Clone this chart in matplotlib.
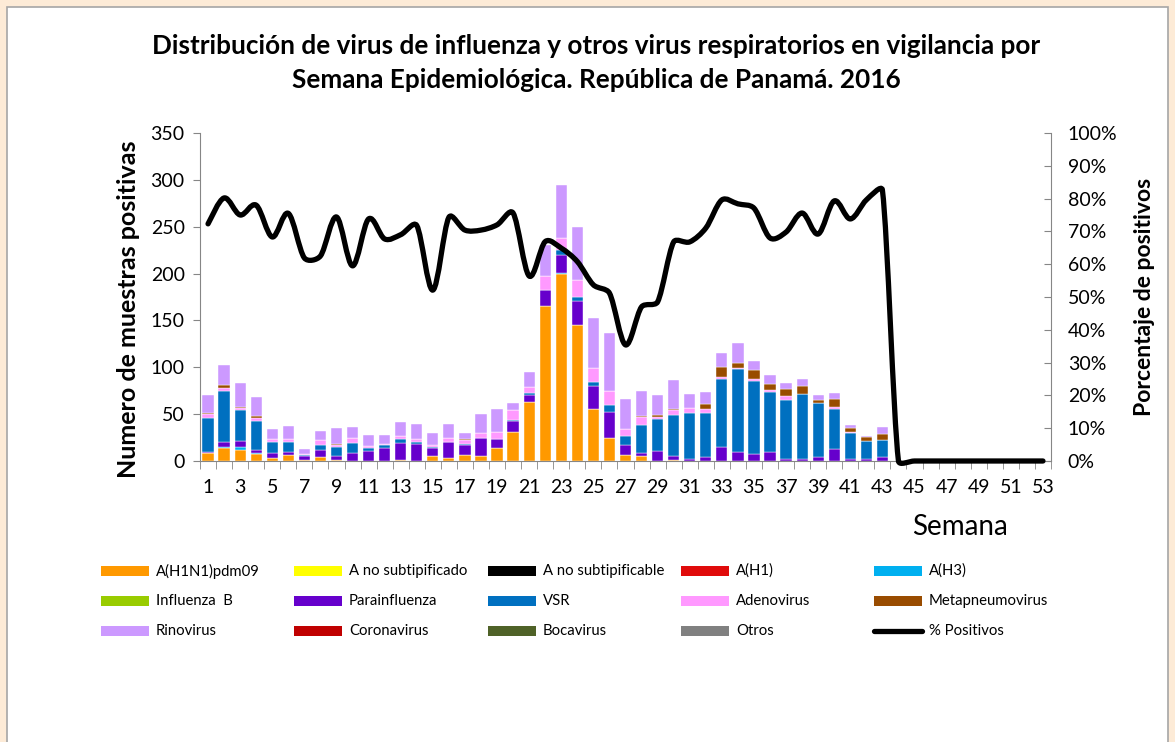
import numpy as np
import matplotlib.pyplot as plt
from matplotlib.patches import Rectangle, PathPatch
from matplotlib.lines import Line2D
from matplotlib.path import Path
from matplotlib.ticker import PercentFormatter, MultipleLocator

plt.rcParams["font.family"] = ["Lato", "DejaVu Sans"]

# semanas epidemiologicas 1..53
weeks = list(range(1, 54))

# muestras positivas por virus y semana
h1n1 = [9, 14, 12, 8, 3, 6, 1, 4, 1, 0, 0, 0, 1, 0, 5, 3, 6, 5, 14, 31, 63, 165, 200, 145, 55, 25, 6,
        5, 0, 1, 0, 0, 0, 0, 0, 0, 0, 0, 0, 0, 0, 0, 0, 0, 0, 0, 0, 0, 0, 0, 0, 0, 0]
a_no_subtipificado = [0] * 53
a_no_subtipificable = [0] * 53
a_h1 = [0] * 53
a_h3 = [0, 1, 3, 1, 0, 0, 0, 0, 0, 0, 0, 0, 0, 0, 0, 0, 0, 0, 0, 0, 0, 0, 1, 0, 0, 0, 0,
        0, 0, 0, 0, 0, 0, 0, 0, 0, 0, 0, 0, 0, 0, 0, 0, 0, 0, 0, 0, 0, 0, 0, 0, 0, 0]
influenza_b = [0] * 53
parainfluenza = [1, 5, 6, 3, 6, 4, 4, 8, 4, 9, 11, 14, 18, 18, 9, 17, 11, 20, 9, 12, 7, 17, 19, 26, 25, 27, 11,
                 4, 11, 4, 2, 4, 15, 10, 7, 10, 2, 2, 4, 13, 2, 2, 4, 0, 0, 0, 0, 0, 0, 0, 0, 0, 0]
vsr = [36, 55, 33, 31, 11, 10, 1, 5, 10, 10, 3, 3, 5, 2, 1, 0, 1, 0, 1, 1, 3, 0, 5, 4, 4, 8, 10,
       29, 34, 44, 49, 47, 73, 88, 78, 64, 63, 70, 58, 43, 28, 19, 18, 0, 0, 0, 0, 0, 0, 0, 0, 0, 0]
adenovirus = [4, 3, 3, 3, 3, 4, 2, 5, 2, 6, 2, 1, 3, 3, 2, 5, 4, 5, 7, 10, 6, 15, 13, 18, 15, 15, 7,
              9, 2, 5, 6, 5, 2, 1, 2, 2, 4, 0, 0, 2, 1, 0, 0, 0, 0, 0, 0, 0, 0, 0, 0, 0, 0]
metapneumovirus = [1, 3, 1, 2, 1, 0, 0, 0, 1, 0, 0, 0, 0, 0, 0, 0, 2, 0, 0, 0, 0, 0, 0, 0, 0, 0, 0,
                   1, 2, 2, 0, 5, 10, 6, 10, 6, 8, 8, 3, 8, 4, 5, 7, 0, 0, 0, 0, 0, 0, 0, 0, 0, 0]
rinovirus = [19, 21, 25, 20, 10, 13, 5, 10, 17, 11, 12, 10, 15, 17, 13, 14, 6, 20, 25, 8, 16, 33, 57, 57, 54, 62, 32,
             27, 21, 30, 14, 13, 15, 21, 10, 10, 6, 7, 5, 7, 3, 1, 7, 0, 0, 0, 0, 0, 0, 0, 0, 0, 0]
coronavirus = [0] * 53
bocavirus = [0] * 53
otros = [0] * 53

# porcentaje de positivos
pct_positivos = [0.723, 0.802, 0.750, 0.780, 0.683, 0.755, 0.619, 0.625, 0.744, 0.595, 0.738, 0.677, 0.690,
                 0.718, 0.521, 0.743, 0.704, 0.704, 0.720, 0.756, 0.564, 0.669, 0.649, 0.608, 0.537, 0.512,
                 0.354, 0.470, 0.485, 0.668, 0.668, 0.710, 0.796, 0.784, 0.771, 0.680, 0.698, 0.756, 0.692,
                 0.793, 0.738, 0.796, 0.826, 0, 0, 0, 0, 0, 0, 0, 0, 0, 0]

series = [
    ("A(H1N1)pdm09", h1n1, "#FF9900"),
    ("A no subtipificado", a_no_subtipificado, "#FFFF00"),
    ("A no subtipificable", a_no_subtipificable, "#000000"),
    ("A(H1)", a_h1, "#E00B0B"),
    ("A(H3)", a_h3, "#00B0F0"),
    ("Influenza  B", influenza_b, "#99CC00"),
    ("Parainfluenza", parainfluenza, "#6600CC"),
    ("VSR", vsr, "#0070C0"),
    ("Adenovirus", adenovirus, "#FF99FF"),
    ("Metapneumovirus", metapneumovirus, "#994C00"),
    ("Rinovirus", rinovirus, "#CC99FF"),
    ("Coronavirus", coronavirus, "#C00000"),
    ("Bocavirus", bocavirus, "#4F6228"),
    ("Otros", otros, "#808080"),
]

W, H = 1175, 742
fig = plt.figure(figsize=(W / 100, H / 100), dpi=100, facecolor="#FDEBD7")

# white chart panel
fig.add_artist(Rectangle((7 / W, -0.01), 1161 / W, 1 - 7 / H + 0.01, transform=fig.transFigure,
                         facecolor="white", edgecolor="#A6A6A6", linewidth=1.2, zorder=0))

ax = fig.add_axes([200 / W, 1 - 461 / H, 851 / W, 328 / H])
ax.set_facecolor("none")

bottom = np.zeros(len(weeks))
for name, vals, color in series:
    vals = np.array(vals, dtype=float)
    if vals.sum() > 0:
        ax.bar(weeks, vals, bottom=bottom, width=0.7, color=color, edgecolor="white",
               linewidth=0.3, zorder=2)
    bottom += vals

ax.set_xlim(0.5, 53.5)
ax.set_ylim(0, 350)
ax.yaxis.set_major_locator(MultipleLocator(50))
ax.set_xticks(weeks[::2])
ax.set_xticks(np.arange(0.5, 54, 1), minor=True)
ax.tick_params(axis="x", which="major", length=0, labelsize=14, pad=13)
ax.tick_params(axis="x", which="minor", length=6, color="#868686")
ax.tick_params(axis="y", length=5, color="#868686", labelsize=14, pad=6)
for s in ["top", "right"]:
    ax.spines[s].set_visible(False)
for s in ["left", "bottom"]:
    ax.spines[s].set_color("#868686")
ax.set_ylabel("Numero de muestras positivas", fontsize=18, fontweight="bold")
ax.yaxis.set_label_coords(-0.071, 0.463)

ax2 = ax.twinx()
ax2.set_ylim(0, 1)
ax2.yaxis.set_major_locator(MultipleLocator(0.1))
ax2.yaxis.set_major_formatter(PercentFormatter(1.0, decimals=0))
ax2.tick_params(axis="y", length=5, direction="in", color="#868686", labelsize=14, pad=12)
for s in ["top", "left", "bottom"]:
    ax2.spines[s].set_visible(False)
ax2.spines["right"].set_color("#868686")
ax2.set_ylabel("Porcentaje de positivos", fontsize=16.5, fontweight="bold", labelpad=12)

# smoothed line: Catmull-Rom style Bezier through the weekly points, with the
# control arms capped by the segment's on-screen length (keeps overshoot small)
sx, sy = 851 / 53, 328.0  # pixels per week, pixels per unit of percentage
pts = np.column_stack([np.array(weeks, dtype=float) * sx, np.array(pct_positivos) * sy])
n = len(pts)
tang = [pts[min(i + 1, n - 1)] - pts[max(i - 1, 0)] for i in range(n)]


def arm(t, seg):
    length = np.hypot(*t) / 6
    cap = seg / 3
    return t / 6 if length <= cap else t / 6 * cap / length


verts = [pts[0]]
codes = [Path.MOVETO]
for i in range(n - 1):
    seg = np.hypot(*(pts[i + 1] - pts[i]))
    c1 = pts[i] + arm(tang[i], seg)
    c2 = pts[i + 1] - arm(tang[i + 1], seg)
    verts += [c1, c2, pts[i + 1]]
    codes += [Path.CURVE4] * 3
verts = np.array(verts) / [sx, sy]
ax2.add_patch(PathPatch(Path(verts, codes), fill=False, edgecolor="black", linewidth=3.8,
                        capstyle="round", joinstyle="round", zorder=3, clip_on=False))

fig.text(960 / W, 1 - 527 / H, "Semana", fontsize=20, ha="center", va="center")

fig.text(596 / W, 1 - 46 / H, "Distribución de virus de influenza y otros virus respiratorios en vigilancia por",
         fontsize=18.8, fontweight="bold", ha="center", va="center")
fig.text(596 / W, 1 - 80 / H, "Semana Epidemiológica. República de Panamá. 2016",
         fontsize=18.8, fontweight="bold", ha="center", va="center")

# legend laid out like the original 5 x 3 grid
col_x = [101, 294, 488, 681, 874]
row_y = [571, 601, 631]
entries = [(name, color) for name, _, color in series] + [("% Positivos", None)]
for i, (name, color) in enumerate(entries):
    x0 = col_x[i % 5]
    y0 = row_y[i // 5]
    if color is None:
        fig.add_artist(Line2D([x0 / W, (x0 + 48) / W], [1 - y0 / H, 1 - y0 / H], transform=fig.transFigure,
                              color="black", linewidth=3.8, solid_capstyle="round"))
    else:
        fig.add_artist(Rectangle((x0 / W, 1 - (y0 + 5) / H), 48 / W, 10 / H, transform=fig.transFigure,
                                 facecolor=color, edgecolor="none"))
    fig.text((x0 + 55) / W, 1 - y0 / H, name, fontsize=10.7, ha="left", va="center")

fig.savefig("out.png", dpi=100, facecolor=fig.get_facecolor())
